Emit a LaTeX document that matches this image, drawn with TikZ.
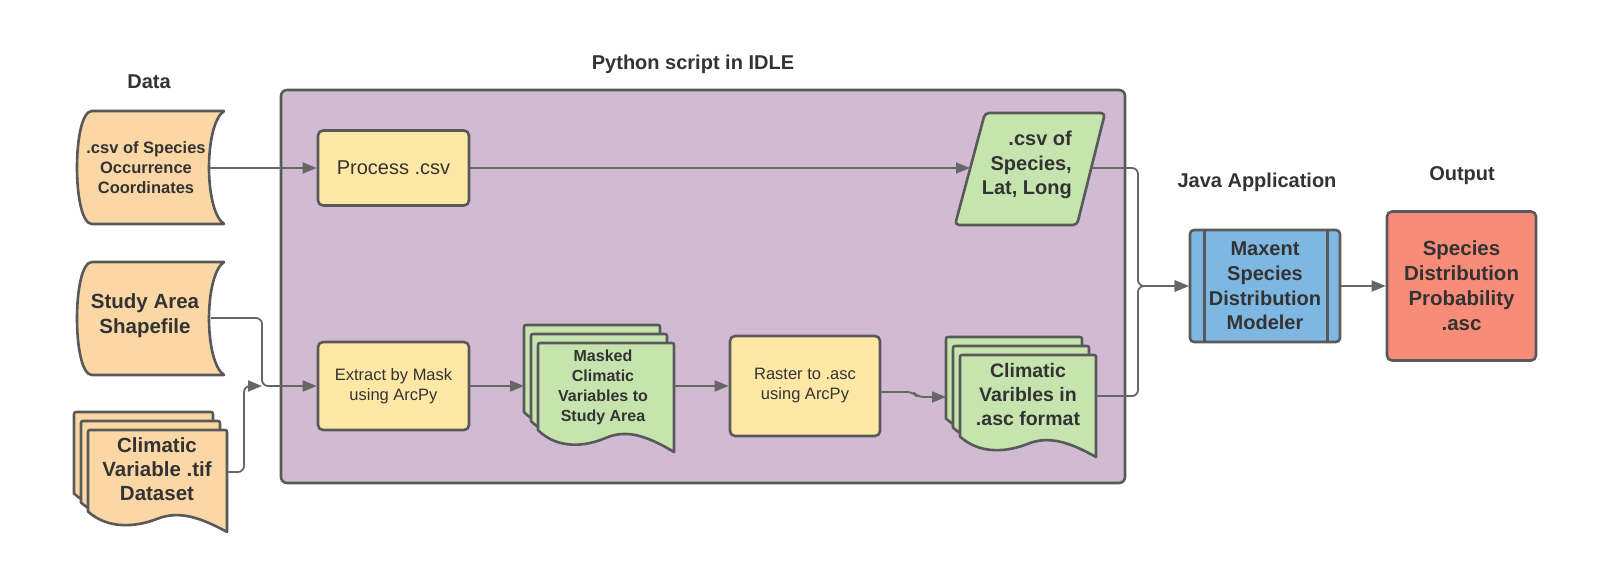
\documentclass[tikz,border=0pt]{standalone}
\usepackage{fontspec}
\setmainfont{Liberation Sans}
\usetikzlibrary{arrows.meta}
\definecolor{bordc}{HTML}{595959}
\definecolor{connc}{HTML}{666666}
\definecolor{txtc}{HTML}{333333}
\definecolor{purp}{HTML}{D0BBD2}
\definecolor{orng}{HTML}{FBD7A6}
\definecolor{yel}{HTML}{FFE8A6}
\definecolor{grn}{HTML}{C6E5AE}
\definecolor{blu}{HTML}{7FB7E3}
\definecolor{redc}{HTML}{F98C78}
\tikzset{
  shapeline/.style={draw=bordc, line width=2.6pt, line join=round},
  boxn/.style={shapeline, rounded corners=5pt, align=center, text=txtc, inner sep=0pt},
  txt/.style={align=center, text=txtc, inner sep=0pt},
  conn/.style={draw=connc, line width=1.8pt, rounded corners=6pt, -{Triangle[length=14pt,width=11pt]}},
  ttl/.style={font=\fontsize{20}{24}\selectfont\bfseries, text=txtc, inner sep=0pt},
}
\newcommand\storedata[5]{%
  \draw[shapeline,#1] ({#2+15},{#3}) -- ({#2+#4},{#3})
    .. controls ({#2+#4-20},{#3+0.12*#5}) and ({#2+#4-20},{#3+0.88*#5}) .. ({#2+#4},{#3+#5})
    -- ({#2+15},{#3+#5})
    .. controls ({#2-5},{#3+#5}) and ({#2-5},{#3}) .. ({#2+15},{#3}) -- cycle;}
\newcommand\docshape[5]{%
  \draw[shapeline,#1] ({#2},{#3+0.8*#5}) -- ({#2},{#3+4}) .. controls ({#2},{#3}) .. ({#2+4},{#3})
    -- ({#2+#4-4},{#3}) .. controls ({#2+#4},{#3}) .. ({#2+#4},{#3+4})
    -- ({#2+#4},{#3+#5})
    .. controls ({#2+0.8*#4},{#3+0.85*#5}) and ({#2+0.65*#4},{#3+0.79*#5}) .. ({#2+0.5*#4},{#3+0.87*#5})
    .. controls ({#2+0.35*#4},{#3+0.95*#5}) and ({#2+0.15*#4},{#3+0.98*#5}) .. ({#2},{#3+0.8*#5}) -- cycle;}
\newcommand\multidoc[5]{%
  \docshape{#1}{#2}{#3}{#4}{#5}%
  \docshape{#1}{#2+7}{#3+9}{#4}{#5}%
  \docshape{#1}{#2+14}{#3+18}{#4}{#5}}
\begin{document}
\begin{tikzpicture}[x=1pt,y=-1pt]
\fill[white] (0,0) rectangle (1612,569);
\useasboundingbox (0,0) rectangle (1612,569);

% titles
\node[ttl] (tdata) at (149,82) {Data};
\node[ttl] (tpy) at (693,64) {Python script in IDLE};
\node[ttl] (tjava) at (1257,182) {Java Application};
\node[ttl] (tout) at (1462,176) {Output};

% container
\draw[shapeline, fill=purp, rounded corners=6pt] (281,90) rectangle (1125,483);

% data inputs
\storedata{fill=orng}{77}{111}{147}{113}
\node[txt, font=\fontsize{16.5}{20}\selectfont\bfseries] (csvin) at (146,168) {.csv of Species\\Occurrence\\Coordinates};
\coordinate (csvinE) at (210,168);

\storedata{fill=orng}{77}{262}{147}{113}
\node[txt, font=\fontsize{20.5}{25}\selectfont\bfseries] (study) at (145,316) {Study Area\\Shapefile};
\coordinate (studyE) at (211,318);

\multidoc{fill=orng}{74}{412}{139}{102}
\node[txt, font=\fontsize{20.5}{24}\selectfont\bfseries] (tif) at (157,469) {Climatic\\Variable .tif\\Dataset};
\coordinate (tifE) at (227,472);

% process boxes
\node[boxn, fill=yel, minimum width=151pt, minimum height=75pt, font=\fontsize{20}{24}\selectfont] (proc) at (393.5,168) {Process .csv};
\node[boxn, fill=yel, minimum width=151pt, minimum height=88pt, font=\fontsize{16.5}{20}\selectfont] (ext) at (393.5,386) {Extract by Mask\\using ArcPy};
\node[boxn, fill=yel, minimum width=150pt, minimum height=100pt, font=\fontsize{16.5}{20}\selectfont] (ras) at (805,386) {Raster to .asc\\using ArcPy};

% masked multi doc
\multidoc{fill=grn}{524}{325}{136}{109}
\node[txt, font=\fontsize{16}{20}\selectfont\bfseries] (msk) at (603,387) {Masked\\Climatic\\Variables to\\Study Area};
\coordinate (mskW) at (524,386);
\coordinate (mskE) at (674,386);

% asc multi doc
\multidoc{fill=grn}{946}{337}{136}{102}
\node[txt, font=\fontsize{19.5}{24}\selectfont\bfseries] (asc) at (1028,395) {Climatic\\Varibles in\\.asc format};
\coordinate (ascW) at (946,397);
\coordinate (ascE) at (1096,396);

% parallelogram
\draw[shapeline, fill=grn, rounded corners=4pt] (985,113) -- (1105,113) -- (1077,225) -- (955,225) -- cycle;
\node[txt, align=right, anchor=east, font=\fontsize{20}{24.5}\selectfont\bfseries] (para) at (1072,165) {.csv of\\Species,\\Lat, Long};
\coordinate (paraW) at (970,168);
\coordinate (paraE) at (1091,168);

% maxent
\node[boxn, fill=blu, rounded corners=4pt, minimum width=150pt, minimum height=112pt, font=\fontsize{20}{24.7}\selectfont\bfseries] (max) at (1265,286) {Maxent\\Species\\Distribution\\Modeler};
\draw[shapeline] ([xshift=16pt]max.north west) -- ([xshift=16pt]max.south west);
\draw[shapeline] ([xshift=-14pt]max.north east) -- ([xshift=-14pt]max.south east);

% output
\node[boxn, fill=redc, minimum width=149pt, minimum height=149pt, font=\fontsize{20.5}{25}\selectfont\bfseries] (out) at (1461.5,286) {Species\\Distribution\\Probability\\.asc};

% connectors
\coordinate (jn) at (1138,286);
\coordinate (jn2) at (262,386);
\coordinate (jn3) at (244,386);
\draw[conn] (csvinE) -- (proc.west);
\draw[conn] (proc.east) -- (paraW);
\draw[conn] (paraE) -| (jn) -- (max.west);
\draw[conn] (ascE) -| (jn) -- (max.west);
\draw[conn] (max.east) -- (out.west);
\draw[conn] (studyE) -| (jn2) -- (ext.west);
\draw[conn] (tifE) -| (jn3) -- (jn2);
\draw[conn] (ext.east) -- (mskW);
\draw[conn] (mskE) -- (ras.west);
\draw[conn] ([yshift=-6pt]ras.east) -- ++(32,0) -- ++(4,5) -- (ascW);
\end{tikzpicture}
\end{document}
